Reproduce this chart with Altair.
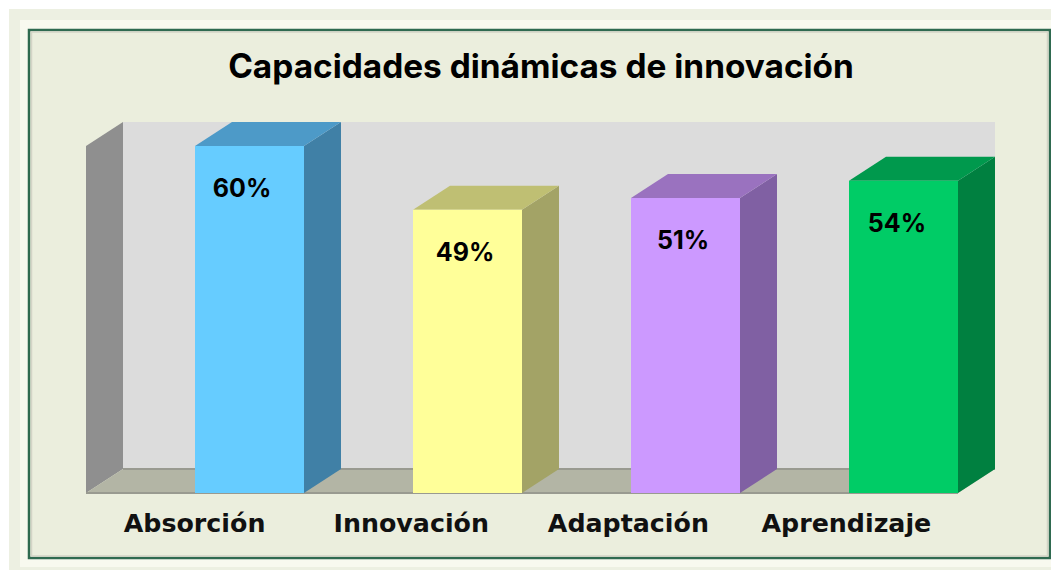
import altair as alt
import pandas as pd

TITLE = "Capacidades dinámicas de innovación"
categories = ["Absorción", "Innovación", "Adaptación", "Aprendizaje"]
values = [60, 49, 51, 54]
label_shift = [-0.034, -0.011, -0.011, -0.030]
category_shift = [-0.252, -0.258, -0.262, -0.262]
front_colors = ["#66ccff", "#ffff99", "#cc99ff", "#00cc66"]
top_colors = ["#4d9ac8", "#bfbf73", "#9a72bf", "#00994d"]
side_colors = ["#4080a6", "#a3a366", "#8060a3", "#008040"]

W, H = 1043, 563
half = 0.25
dx_depth = 37 / 218
dv_depth = 24 / 5.783
wall_left, wall_right = -0.75, 3.25
vmax = 60

xs = alt.Scale(domain=[(8 - 249.5) / 218, (1051 - 249.5) / 218], nice=False, zero=False)
ys = alt.Scale(domain=[(493 - 571) / 5.783, (493 - 8) / 5.783], nice=False, zero=False)


def X(f="x", **kw):
    return alt.X(f + ":Q", scale=xs, axis=None, **kw)


def Y(f="y", **kw):
    return alt.Y(f + ":Q", scale=ys, axis=None, stack=None, **kw)


def frame(x, x2, y, y2, **style):
    return alt.Chart(pd.DataFrame({"a": [0]})).mark_rect(**style).encode(
        x=alt.value(x), x2=alt.value(x2), y=alt.value(y), y2=alt.value(y2)
    )


layers = [
    frame(1, 1043, 1, 562, fill="#edf0e2"),
    frame(12, 1043, 12, 559, fill="#f8f9ef"),
    frame(21, 1042, 22, 550, fill="#ebeedd", stroke="#2f6a50", strokeWidth=2.5),
    frame(23.5, 1039.5, 24, 548, fill="#ebeedd", stroke="#d3d4c6", strokeWidth=1.5),
]

wall = pd.DataFrame(
    {"x": [wall_left + dx_depth], "x2": [wall_right + dx_depth], "y": [dv_depth], "y2": [vmax + dv_depth]}
)
layers.append(
    alt.Chart(wall).mark_rect(fill="#dcdcdc").encode(x=X(), x2="x2:Q", y=Y(), y2="y2:Q")
)

lw = pd.DataFrame(
    {"x": [wall_left, wall_left + dx_depth], "y": [0, dv_depth], "y2": [vmax, vmax + dv_depth]}
)
layers.append(
    alt.Chart(lw).mark_area(fill="#8f8f8f").encode(x=X(), y=Y(), y2="y2:Q")
)

fl = pd.DataFrame(
    {"y": [0, dv_depth], "x": [wall_left, wall_left + dx_depth], "x2": [wall_right, wall_right + dx_depth]}
)
layers.append(
    alt.Chart(fl).mark_area(orient="horizontal", fill="#b3b5a5").encode(y=Y(), x=X(), x2="x2:Q")
)
edges = pd.DataFrame(
    {
        "x": [wall_left, wall_left + dx_depth],
        "x2": [wall_right, wall_right + dx_depth],
        "y": [0, dv_depth],
    }
)
layers.append(
    alt.Chart(edges).mark_rule(color="#999a90", strokeWidth=2).encode(x=X(), x2="x2:Q", y=Y())
)

for i, (v, f, t, s) in enumerate(zip(values, front_colors, top_colors, side_colors)):
    r = i + half
    l = i - half
    side = pd.DataFrame({"x": [r, r + dx_depth], "y": [0, dv_depth], "y2": [v, v + dv_depth]})
    layers.append(alt.Chart(side).mark_area(fill=s).encode(x=X(), y=Y(), y2="y2:Q"))
    top = pd.DataFrame({"y": [v, v + dv_depth], "x": [l, l + dx_depth], "x2": [r, r + dx_depth]})
    layers.append(
        alt.Chart(top).mark_area(orient="horizontal", fill=t).encode(y=Y(), x=X(), x2="x2:Q")
    )
    front = pd.DataFrame({"x": [l], "x2": [r], "y": [0], "y2": [v]})
    layers.append(alt.Chart(front).mark_rect(fill=f).encode(x=X(), x2="x2:Q", y=Y(), y2="y2:Q"))

vl = pd.DataFrame(
    {
        "x": [i + d for i, d in enumerate(label_shift)],
        "y": values,
        "t": [f"{v}%" for v in values],
    }
)
layers.append(
    alt.Chart(vl)
    .mark_text(font="Inter", fontWeight="bold", fontSize=25, color="#000000", dy=43)
    .encode(x=X(), y=Y(), text="t:N")
)

cl = pd.DataFrame({"x": [i + d for i, d in enumerate(category_shift)], "t": categories, "y": [0] * 4})
layers.append(
    alt.Chart(cl)
    .mark_text(font="DejaVu Sans", fontWeight="bold", fontSize=25.3, color="#111111", dy=31)
    .encode(x=X(), y=Y(), text="t:N")
)

tl = pd.DataFrame({"x": [(541 - 249.5) / 218], "y": [(493 - 68) / 5.783], "t": [TITLE]})
layers.append(
    alt.Chart(tl)
    .mark_text(font="Inter", fontWeight="bold", fontSize=33.4, color="#000000")
    .encode(x=X(), y=Y(), text="t:N")
)

chart = (
    alt.layer(*layers)
    .properties(width=W, height=H, background="#ffffff", padding=0, autosize=alt.AutoSizeParams(type="none"))
    .configure_view(stroke=None)
)
chart.save("out.html", embed_options={"renderer": "svg", "actions": False})
